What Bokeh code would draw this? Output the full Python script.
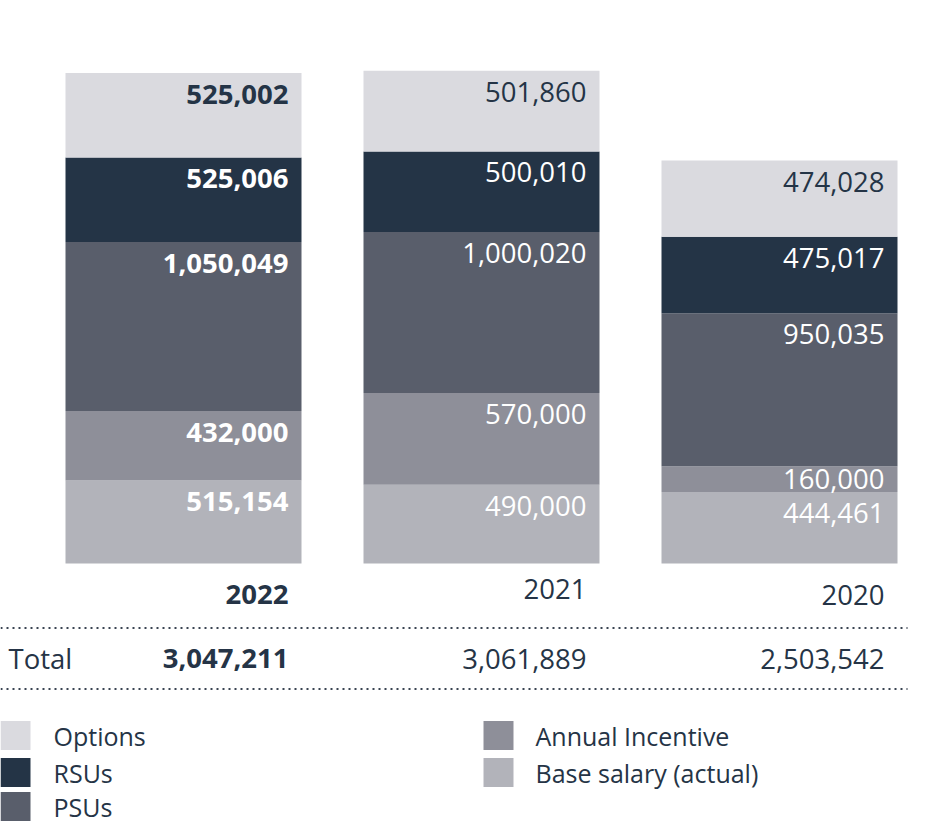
from bokeh.plotting import figure
from bokeh.models import Range1d, ColumnDataSource
from bokeh.core.properties import value
from bokeh.embed import file_html
from bokeh.resources import INLINE

# ---------------- data ----------------
years = ["2022", "2021", "2020"]
base_salary = [515154, 490000, 444461]
annual_incentive = [432000, 570000, 160000]
psus = [1050049, 1000020, 950035]
rsus = [525006, 500010, 475017]
options = [525002, 501860, 474028]
totals = [3047211, 3061889, 2503542]

series_names = ["Base salary (actual)", "Annual Incentive", "PSUs", "RSUs", "Options"]
series_values = [base_salary, annual_incentive, psus, rsus, options]
legend_col1 = ["Options", "RSUs", "PSUs"]
legend_col2 = ["Annual Incentive", "Base salary (actual)"]
bold_year = "2022"

# ---------------- style / layout ----------------
colors = {
    "Options": "#dadadf",
    "RSUs": "#243446",
    "PSUs": "#595e6b",
    "Annual Incentive": "#8e8f99",
    "Base salary (actual)": "#b2b3ba",
}
label_colors = {
    "Options": "#243446",
    "RSUs": "#ffffff",
    "PSUs": "#ffffff",
    "Annual Incentive": "#ffffff",
    "Base salary (actual)": "#ffffff",
}
DARK = "#253446"
FONT = "Open Sans"
W, H = 920, 824
VPP = 6212.5          # value units per pixel
ZERO_Y = 563          # pixel y of the bar baseline
bar_centers = [183, 481, 779]
bar_width = 236
label_inset = 13

p = figure(width=W, height=H, output_backend="svg", toolbar_location=None,
           x_axis_type=None, y_axis_type=None,
           x_range=Range1d(0, W),
           y_range=Range1d(-(H - ZERO_Y) * VPP, ZERO_Y * VPP),
           min_border=0, outline_line_color=None, background_fill_color="white",
           border_fill_color="white")
p.grid.visible = False
p.extra_y_ranges = {"px": Range1d(H, 0)}

# ---------------- stacked bars ----------------
bottoms = [0] * len(years)
lab = dict(x=[], y=[], text=[], color=[], style=[], yoff=[])
for name, vals in zip(series_names, series_values):
    tops = [b + v for b, v in zip(bottoms, vals)]
    p.vbar(x=bar_centers, bottom=bottoms, top=tops, width=bar_width,
           fill_color=colors[name], line_color=None)
    for i, v in enumerate(vals):
        lab["x"].append(bar_centers[i] + bar_width / 2)
        lab["y"].append(tops[i])
        lab["text"].append(f"{v:,}")
        lab["color"].append(label_colors[name])
        lab["style"].append("bold" if years[i] == bold_year else "normal")
        lab["yoff"].append(min(21, v / VPP / 2))
    bottoms = tops

p.text(x="x", y="y", text="text", source=ColumnDataSource(lab),
       text_color="color", text_font_style="style", y_offset="yoff",
       x_offset=-label_inset, text_align="right", text_baseline="middle",
       text_font=value(FONT), text_font_size="27.5px")

# ---------------- year labels and totals ----------------
right_edges = [c + bar_width / 2 for c in bar_centers]
styles = ["bold" if y == bold_year else "normal" for y in years]
year_src = ColumnDataSource(dict(x=right_edges, y=[594, 588, 594], text=years, style=styles))
p.text(x="x", y="y", text="text", source=year_src, y_range_name="px",
       x_offset=-label_inset, text_align="right", text_baseline="middle",
       text_font_style="style", text_color=DARK,
       text_font=value(FONT), text_font_size="27.5px")

tot_src = ColumnDataSource(dict(x=right_edges, y=[658] * 3,
                                text=[f"{t:,}" for t in totals], style=styles))
p.text(x="x", y="y", text="text", source=tot_src, y_range_name="px",
       x_offset=-label_inset, text_align="right", text_baseline="middle",
       text_font_style="style", text_color=DARK,
       text_font=value(FONT), text_font_size="27.5px")
p.text(x=[8], y=[658], text=["Total"], y_range_name="px",
       text_align="left", text_baseline="middle", text_color=DARK,
       text_font=value(FONT), text_font_size="27.5px")

p.segment(x0=[0, 0], y0=[627.5, 688.5], x1=[907, 907], y1=[627.5, 688.5],
          y_range_name="px", line_color="#3a4452", line_width=2, line_dash="2 4")

# ---------------- legend ----------------
leg_rows = [735, 772, 806]
for col_items, sx, tx in [(legend_col1, 0, 53), (legend_col2, 483, 535)]:
    for name, cy in zip(col_items, leg_rows):
        p.rect(x=[sx + 15], y=[cy], width=30, height=29, y_range_name="px",
               fill_color=colors[name], line_color=None)
        p.text(x=[tx], y=[cy], text=[name], y_range_name="px",
               text_align="left", text_baseline="middle", text_color=DARK,
               text_font=value(FONT), text_font_size="25px")

open("out.html", "w").write(file_html(p, INLINE))
